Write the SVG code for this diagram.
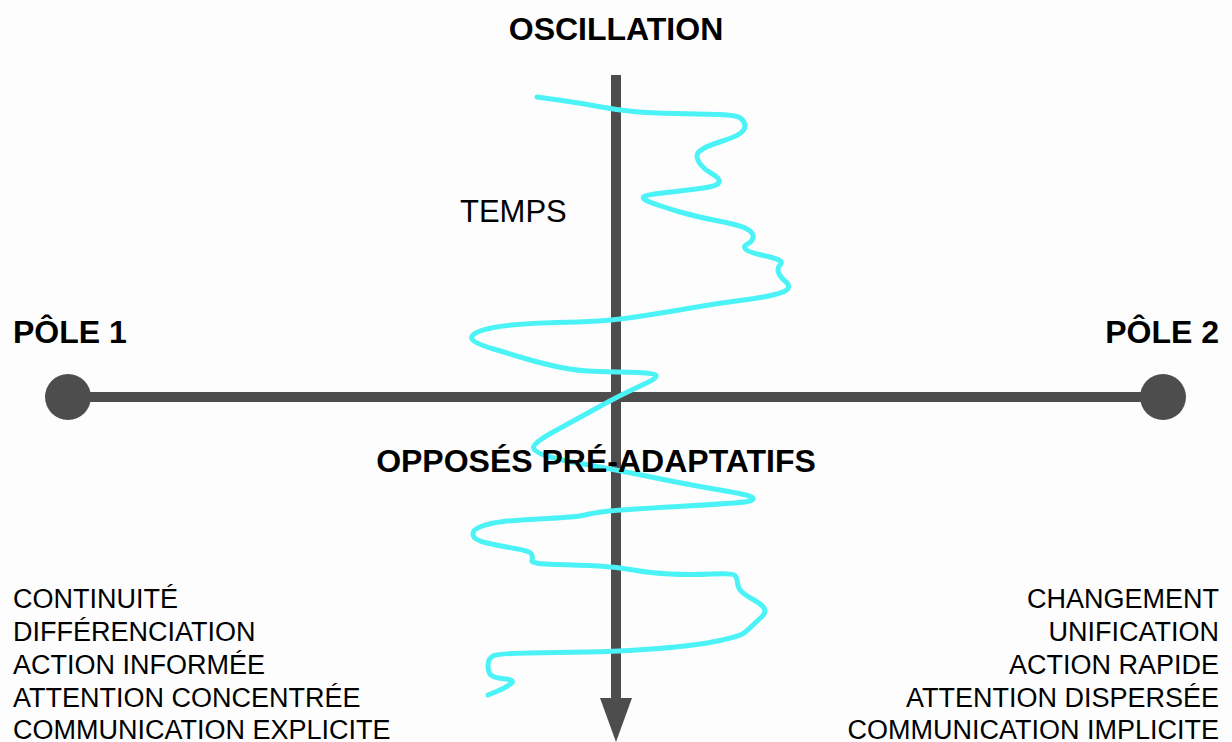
<svg xmlns="http://www.w3.org/2000/svg" width="1232" height="742" viewBox="0 0 1232 742">
<style>
.b{font-family:"Liberation Sans",Arial,sans-serif;font-weight:bold;font-size:32px;fill:#000}
.r{font-family:"Liberation Sans",Arial,sans-serif;font-size:27px;fill:#000}
.t{font-family:"Liberation Sans",Arial,sans-serif;font-size:31px;fill:#000}
.ax{stroke:#4d4d4d;stroke-width:10;fill:none}
.dot{fill:#4d4d4d}
.wave{stroke:#4cf3f6;stroke-width:5;fill:none;stroke-linejoin:round;stroke-linecap:round}
</style>
<rect width="1232" height="742" fill="#fdfdfd"/>
<g id="connectors">
<line class="ax" x1="68" y1="397" x2="1163" y2="397"/>
<line class="ax" x1="616" y1="75" x2="616" y2="700" stroke-width="9"/>
<polygon class="dot" points="600,698 632,698 616,742"/>
</g>
<g id="pole1">
<circle class="dot" cx="68" cy="397" r="23"/>
<text class="b" x="13" y="343">PÔLE 1</text>
</g>
<g id="pole2">
<circle class="dot" cx="1163" cy="397" r="23"/>
<text class="b" x="1219" y="343" text-anchor="end">PÔLE 2</text>
</g>
<g id="oscillation">
<text class="b" x="616" y="40" text-anchor="middle">OSCILLATION</text>
<path class="wave" d="M537,97 L558.5,100 Q580,103 598.5,106.5 Q617,110 633.5,111.5 Q650,113 675,113.5 Q700,114 718.5,114.5 Q737,115 741,118.5 Q745,122 745,126 Q745,130 740,133.5 Q735,137 722.5,141 Q710,145 703.5,148.5 Q697,152 697,156 Q697,160 701,165 Q705,170 711.5,173.5 Q718,177 719,180 Q720,183 716,185 Q712,187 696,189 Q680,191 662.5,193 Q645,195 643.5,197 Q642,199 651,202.5 Q660,206 678.5,211.5 Q697,217 718.5,221 Q740,225 747,229 Q754,233 753,237.5 Q752,242 747.5,244 Q743,246 745.5,249 Q748,252 761.5,255 Q775,258 779,260 Q783,262 780,265 Q777,268 778.5,272.5 Q780,277 785,281 Q790,285 788,288.5 Q786,292 773,295 Q760,298 740,300.5 Q720,303 700,306.5 Q680,310 648.5,315 Q617,320 598.5,321 Q580,322 556.5,322.5 Q533,323 511.5,325 Q490,327 480,331 Q470,335 472,339 Q474,343 492,348.5 Q510,354 525,358.5 Q540,363 558.5,367 Q577,371 598.5,371.5 Q620,372 637.5,372.5 Q655,373 656,375.5 Q657,378 648.5,382 Q640,386 628.5,391.5 Q617,397 596,408.5 Q575,420 554,431.5 Q533,443 533.5,447.5 Q534,452 547,456 Q560,460 588.5,465 Q617,470 653.5,477.5 Q690,485 720,490 Q750,495 752.5,497.5 Q755,500 747.5,501.5 Q740,503 678.5,506.5 Q617,510 605,511.5 Q593,513 585,515 Q577,517 547,518.5 Q517,520 503.5,521.5 Q490,523 481,526.5 Q472,530 473,535 Q474,540 487,543 Q500,546 515,548.5 Q530,551 531.5,554 Q533,557 532,560.5 Q531,564 555.5,564.5 Q580,565 598.5,566 Q617,567 633.5,570 Q650,573 670,574 Q690,575 711.5,574 Q733,573 735,575.5 Q737,578 737.5,583 Q738,588 741.5,591.5 Q745,595 754,600 Q763,605 764.5,609 Q766,613 761.5,617 Q757,621 752.5,625.5 Q748,630 744,633 Q740,636 720,640.5 Q700,645 658.5,648.5 Q617,652 558.5,652.5 Q500,653 494,655.5 Q488,658 488,665.5 Q488,673 491.5,675.5 Q495,678 505.5,679 Q516,680 510.5,684 Q505,688 496.5,691.5 L488,695"/>
</g>
<g id="temps">
<text class="t" x="460" y="222">TEMPS</text>
</g>
<g id="opposes">
<text class="b" x="596" y="472" text-anchor="middle">OPPOSÉS PRÉ-ADAPTATIFS</text>
</g>
<g id="list1">
<text class="r" x="13" y="608">CONTINUITÉ</text>
<text class="r" x="13" y="641">DIFFÉRENCIATION</text>
<text class="r" x="13" y="674">ACTION INFORMÉE</text>
<text class="r" x="13" y="707">ATTENTION CONCENTRÉE</text>
<text class="r" x="13" y="739">COMMUNICATION EXPLICITE</text>
</g>
<g id="list2">
<text class="r" x="1219" y="608" text-anchor="end">CHANGEMENT</text>
<text class="r" x="1219" y="641" text-anchor="end">UNIFICATION</text>
<text class="r" x="1219" y="674" text-anchor="end">ACTION RAPIDE</text>
<text class="r" x="1219" y="707" text-anchor="end">ATTENTION DISPERSÉE</text>
<text class="r" x="1219" y="739" text-anchor="end">COMMUNICATION IMPLICITE</text>
</g>
</svg>
